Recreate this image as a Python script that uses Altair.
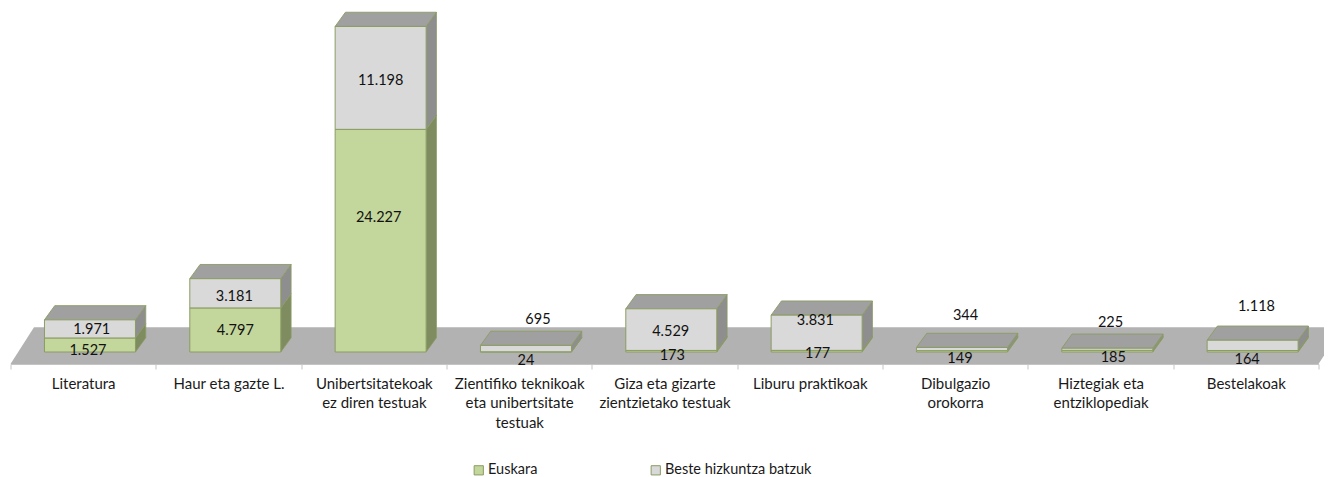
import altair as alt
import pandas as pd

# ---- values ----
categories = ["Literatura", "Haur eta gazte L.", "Unibertsitatekoak|ez diren testuak",
              "Zientifiko teknikoak|eta unibertsitate|testuak", "Giza eta gizarte|zientzietako testuak",
              "Liburu praktikoak", "Dibulgazio|orokorra", "Hiztegiak eta|entziklopediak", "Bestelakoak"]
euskara = [1527, 4797, 24227, 24, 173, 177, 149, 185, 164]
beste = [1971, 3181, 11198, 695, 4529, 3831, 344, 225, 1118]
series = ["Euskara", "Beste hizkuntza batzuk"]

# ---- label nudges from the segment centre, in px ----
eus_dx = [-2, 0, -2, 0, 1, 1, -2, 6, -5.5]
eus_dy = [4.3, 0, -23.7, 8, 2.8, 1, 6, 5.8, 7]
bes_dx = [1.7, -1, 0, 12, -0.6, -1.3, 3.6, 3.2, 3.8]
bes_dy = [-0.7, 2.4, 2, -29.6, 1, -12.8, -34.7, -27.5, -39.6]

# ---- layout ----
W, H = 1308, 356
PX_X = W / 9            # px per category
PX_Y = 0.00919          # px per unit
Y_MIN = -12 / PX_Y
Y_MAX = Y_MIN + H / PX_Y
DX = 10.3 / PX_X
DY = 14.2 / PX_Y
BAR_W = 91 / PX_X
SHIFT = 6.8 / PX_X
FLOOR_DX = 23.5 / PX_X
FLOOR_BACK = 24.7 / PX_Y

GREEN, GREY = "#c3d69b", "#d9d9d9"
GREEN_SIDE, GREY_SIDE = "#7f8c60", "#8e8e8e"
TOP, FLOOR = "#a0a0a0", "#b2b2b2"
EDGE = "#8a9c63"
FONT = "Lato"

xs = alt.Scale(domain=[0, 9], nice=False, zero=False)
ys = alt.Scale(domain=[Y_MIN, Y_MAX], nice=False, zero=False)
X = alt.X("x:Q", scale=xs, axis=None, stack=None, title=None)
Y = alt.Y("y:Q", scale=ys, axis=None, stack=None, title=None)

front, side, top, labels = [], [], [], []
for i, (e, b) in enumerate(zip(euskara, beste)):
    xl = i + 0.5 + SHIFT - BAR_W / 2
    xr = xl + BAR_W
    cx = xl + BAR_W / 2
    for name, lo, hi, ndx, ndy in ((series[0], 0, e, eus_dx[i], eus_dy[i]),
                                   (series[1], e, e + b, bes_dx[i], bes_dy[i])):
        front.append(dict(x=xl, x2=xr, y=lo, y2=hi, s=name))
        side.append(dict(id=f"{i}-{name}", s=name, x=xr, y=lo, y2=hi))
        side.append(dict(id=f"{i}-{name}", s=name, x=xr + DX, y=lo + DY, y2=hi + DY))
        labels.append(dict(x=cx + ndx / PX_X, y=(lo + hi) / 2 - ndy / PX_Y,
                           t=f"{hi - lo:,}".replace(",", ".")))
    top.append(dict(id=i, y=e + b, x=xl, x2=xr))
    top.append(dict(id=i, y=e + b + DY, x=xl + DX, x2=xr + DX))

floor = pd.DataFrame([dict(y=Y_MIN, x=0, x2=9), dict(y=FLOOR_BACK, x=FLOOR_DX, x2=9 + FLOOR_DX)])
front, side, top, labels = map(pd.DataFrame, (front, side, top, labels))

axis_layer = alt.Chart(pd.DataFrame({"c": categories})).mark_point(opacity=0).encode(
    x=alt.X("c:N", sort=None, title=None,
            scale=alt.Scale(paddingInner=0, paddingOuter=0),
            axis=alt.Axis(orient="bottom", tickBand="extent", labelAngle=0, grid=False,
                          labelExpr="datum.value ? split(datum.value, '|') : ''",
                          labelFont=FONT, labelFontSize=15,
                          labelColor="#1a1a1a", labelLineHeight=19.3, labelPadding=7.5,
                          tickColor="#c4c4c4", tickSize=5, domainColor="#c4c4c4",
                          labelOverlap=False, labelLimit=300, labelBaseline="top")),
)

floor_layer = alt.Chart(floor).mark_area(orient="horizontal", color=FLOOR).encode(
    x=X, x2="x2:Q", y=Y)


def side_layer(name, fill):
    return alt.Chart(side[side.s == name]).mark_area(
        orient="vertical", color=fill, stroke=EDGE, strokeWidth=0.8).encode(
        x=X, y=Y, y2="y2:Q", detail="id:N")


top_layer = alt.Chart(top).mark_area(
    orient="horizontal", color=TOP, stroke=EDGE, strokeWidth=0.9).encode(
    x=X, x2="x2:Q", y=Y, detail="id:N")

front_layer = alt.Chart(front).mark_rect(stroke=EDGE, strokeWidth=1).encode(
    x=X, x2="x2:Q", y=Y, y2="y2:Q",
    color=alt.Color("s:N", title=None,
                    scale=alt.Scale(domain=series, range=[GREEN, GREY]),
                    legend=alt.Legend(orient="none", legendX=461, legendY=455, direction="horizontal",
                                      columns=2, columnPadding=111, symbolType="square", symbolSize=85,
                                      symbolStrokeColor=EDGE, symbolStrokeWidth=1, symbolOpacity=1,
                                      labelFont=FONT, labelFontSize=14.5, labelColor="#1a1a1a",
                                      labelOffset=2, padding=0)),
)

text_layer = alt.Chart(labels).mark_text(font=FONT, fontSize=14.5, color="#111111", dy=1.5).encode(
    x=X, y=Y, text="t:N")

chart = alt.layer(
    floor_layer, axis_layer, side_layer(series[0], GREEN_SIDE), side_layer(series[1], GREY_SIDE),
    top_layer, front_layer, text_layer,
).resolve_scale(x="independent").properties(
    width=W, height=H,
    autosize=alt.AutoSizeParams(type="none"),
    padding={"left": 2.5, "right": 5.5, "top": 0, "bottom": 113},
    background="white",
).configure_view(stroke=None)

chart.save("out.html", embed_options={"renderer": "svg", "actions": False})
